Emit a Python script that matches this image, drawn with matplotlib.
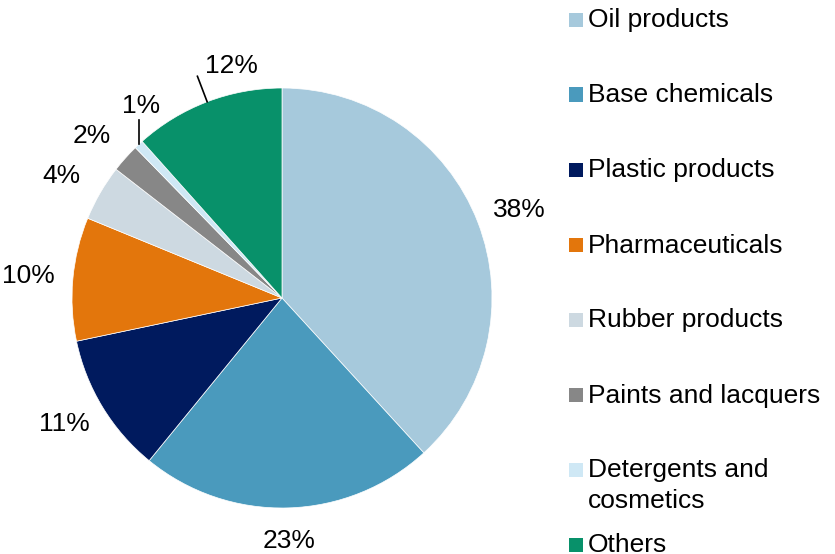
import numpy as np
import matplotlib
matplotlib.use("Agg")
import matplotlib.pyplot as plt
from matplotlib.patches import Rectangle

plt.rcParams['font.family'] = ['Liberation Sans', 'DejaVu Sans']

# data (shares in %)
categories = ['Oil products', 'Base chemicals', 'Plastic products', 'Pharmaceuticals',
              'Rubber products', 'Paints and lacquers', 'Detergents and\ncosmetics', 'Others']
shares = [38.2, 22.7, 10.8, 9.5, 4.3, 2.2, 0.7, 11.6]
colors = ['#A6C9DC', '#4A9ABD', '#001A5E', '#E3760C',
          '#CDD9E1', '#878787', '#CFE8F5', '#08916A']
# slices labelled through a leader line
leader = {'Detergents and\ncosmetics', 'Others'}

W, H = 835, 554
cx, cy, R = 282, 298, 210     # pie centre / radius in pixels
px = 1.0 / R                  # one pixel in data units

fig = plt.figure(figsize=(W / 100, H / 100), dpi=100)
ax = fig.add_axes([0, 0, 1, 1])

wedges, _ = ax.pie(shares, colors=colors, startangle=90, counterclock=False,
                   radius=1.0, wedgeprops=dict(edgecolor='white', linewidth=0.5))

# pie() resets the limits, so set them afterwards
ax.set_xlim(-cx * px, (W - cx) * px)
ax.set_ylim(-(H - cy) * px, cy * px)
ax.set_aspect('equal')
ax.axis('off')

fs = 19
total = sum(shares)
for w, name, val in zip(wedges, categories, shares):
    mid = np.deg2rad((w.theta1 + w.theta2) / 2)
    ux, uy = np.cos(mid), np.sin(mid)
    txt = f'{val / total * 100:.0f}%'
    if name in leader:
        x0, y0 = ux, uy
        if name == 'Others':
            x1, y1 = 1.13 * ux, 1.13 * uy
            ax.plot([x0, x1], [y0, y1], color='black', lw=1.2)
            ax.text(x1 + 8 * px, y1 - 2 * px, txt, fontsize=fs, ha='left', va='bottom')
        else:
            x1, y1 = x0, y0 + 24 * px
            ax.plot([x0, x1], [y0, y1], color='black', lw=1.2)
            ax.text(x1 + 2 * px, y1 + 2 * px, txt, fontsize=fs, ha='center', va='bottom')
        continue
    g = 1.0 + 20 * px
    tx = g * ux + 25 * px * ux
    ty = g * uy + 13 * px * uy
    ax.text(tx, ty, txt, fontsize=fs, ha='center', va='center')

# legend drawn by hand, evenly spaced rows
lx_box, lx_txt = 569, 588
y_first, step = 20.5, 75
for i, (name, col) in enumerate(zip(categories, colors)):
    yy = y_first + step * i
    ax.add_patch(Rectangle(((lx_box - cx) * px, (cy - yy - 6) * px), 14 * px, 14 * px,
                           facecolor=col, edgecolor='none', clip_on=False))
    ax.text((lx_txt - cx) * px, (cy - yy) * px, name.split('\n')[0], fontsize=fs,
            ha='left', va='center')
    if '\n' in name:
        ax.text((lx_txt - cx) * px, (cy - yy - 30) * px, name.split('\n')[1], fontsize=fs,
                ha='left', va='center')

fig.savefig('out.png', dpi=100)
